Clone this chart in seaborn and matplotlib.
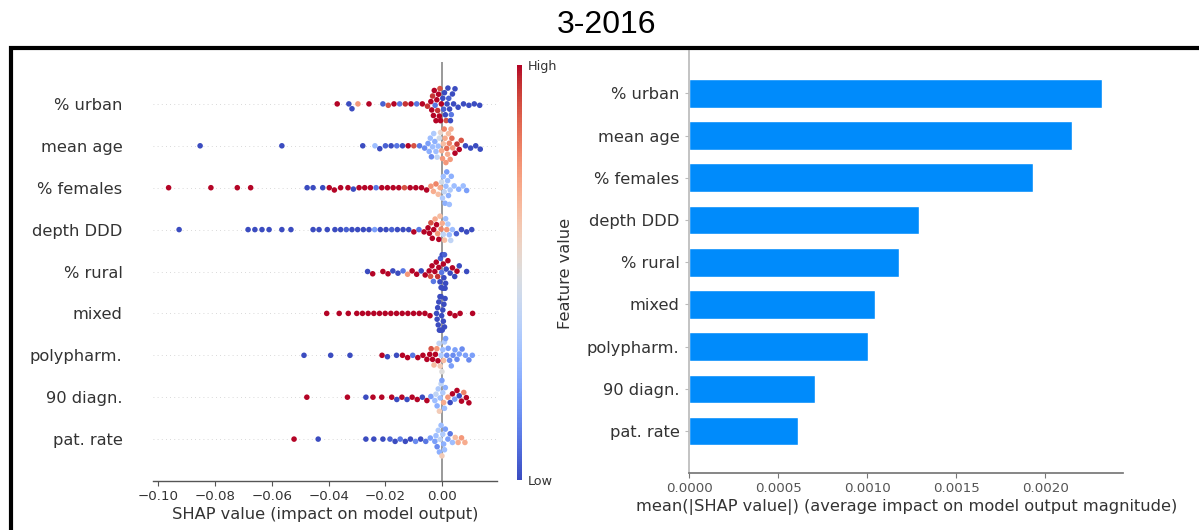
import warnings
import numpy as np
import pandas as pd
import matplotlib
matplotlib.use("Agg")
import matplotlib.pyplot as plt
from matplotlib.patches import Rectangle
from matplotlib.cm import ScalarMappable
from matplotlib.colors import Normalize
import seaborn as sns

warnings.filterwarnings("ignore")

# ---------------------------------------------------------------- data
features = ["% urban", "mean age", "% females", "depth DDD", "% rural",
            "mixed", "polypharm.", "90 diagn.", "pat. rate"]

# mean(|SHAP|) per feature
mean_abs_shap = [0.002317, 0.002150, 0.001931, 0.001292, 0.001176,
                 0.001045, 0.001002, 0.000704, 0.000611]

# per-sample SHAP values and normalised feature values (0 = low, 1 = high)
urban_shap = [-0.0370, -0.0329, -0.0318, -0.0297, -0.0258, -0.0209, -0.0190, -0.0170,
              -0.0150, -0.0130, -0.0110, -0.0090, -0.0070, -0.0052,
              -0.0040, -0.0037, -0.0034, -0.0031, -0.0028, -0.0025, -0.0022, -0.0019,
              -0.0016, -0.0013, -0.0010, -0.0008, -0.0006, -0.0003,
              0.0002, 0.0005, 0.0008, 0.0011, 0.0014, 0.0017, 0.0020, 0.0023, 0.0026,
              0.0029, 0.0032, 0.0036, 0.0040, 0.0045,
              0.0056, 0.0075, 0.0094, 0.0113, 0.0132]
urban_val = [1.0, 0.0, 0.0, 0.75, 1.0, 0.05, 0.9, 1.0,
             0.1, 0.95, 1.0, 0.1, 1.0, 0.95,
             1.0, 1.0, 0.95, 1.0, 1.0, 0.1, 1.0, 1.0,
             0.95, 1.0, 1.0, 0.9, 1.0, 1.0,
             0.0, 0.05, 0.0, 0.0, 0.9, 0.0, 0.0, 0.05, 0.0,
             0.0, 0.1, 0.0, 0.0, 0.0,
             0.0, 0.0, 0.0, 0.0, 0.0]

age_shap = [-0.0853, -0.0565, -0.0280, -0.0237,
            -0.0220, -0.0200, -0.0180, -0.0160, -0.0140, -0.0120, -0.0100, -0.0080,
            -0.0062,
            -0.0050, -0.0046, -0.0042, -0.0038, -0.0034, -0.0030, -0.0026, -0.0022,
            -0.0018, -0.0014, -0.0010, -0.0006,
            -0.0002, 0.0001, 0.0004, 0.0007, 0.0010, 0.0013, 0.0016, 0.0019, 0.0022,
            0.0025, 0.0028, 0.0031, 0.0034, 0.0037,
            0.0045, 0.0052, 0.0060, 0.0067,
            0.0082, 0.0100, 0.0118, 0.0134]
age_val = [0.0, 0.0, 0.0, 0.3,
           0.0, 0.05, 0.0, 0.1, 0.0, 1.0, 0.9, 0.1,
           0.15,
           0.2, 0.25, 0.3, 0.15, 0.3, 0.35, 0.25, 0.3, 0.4, 0.3, 0.45, 0.55,
           0.7, 0.75, 0.65, 0.8, 0.7, 0.75, 0.85, 0.7, 0.65,
           0.8, 0.75, 0.7, 0.85, 0.75,
           1.0, 0.95, 1.0, 0.9,
           0.0, 0.0, 0.0, 0.0]

females_shap = [-0.0964, -0.0815, -0.0722, -0.0675, -0.0476, -0.0455, -0.0421, -0.0398,
                -0.0380, -0.0358, -0.0332, -0.0313,
                -0.0293, -0.0273, -0.0253, -0.0233, -0.0213, -0.0193, -0.0173, -0.0153,
                -0.0133, -0.0113, -0.0093, -0.0073, -0.0055,
                -0.0040, -0.0031, -0.0022, -0.0014, -0.0007,
                -0.0002, 0.0001, 0.0004, 0.0007, 0.0010, 0.0013, 0.0016, 0.0019, 0.0022,
                0.0025, 0.0028, 0.0032,
                0.0042, 0.0058, 0.0074, 0.0086]
females_val = [1.0, 1.0, 1.0, 1.0, 0.0, 0.0, 0.0, 1.0,
               1.0, 1.0, 1.0, 0.0,
               1.0, 1.0, 1.0, 0.1, 1.0, 1.0, 1.0, 1.0,
               0.9, 1.0, 1.0, 1.0, 1.0,
               0.75, 0.7, 0.8, 0.65, 0.7,
               0.45, 0.35, 0.3, 0.4, 0.25, 0.3, 0.2, 0.3, 0.25,
               0.3, 0.35, 0.25,
               0.3, 0.25, 0.3, 0.2]

depth_shap = [-0.0927, -0.0684, -0.0660, -0.0635, -0.0610, -0.0565, -0.0533, -0.0455,
              -0.0434, -0.0405,
              -0.0378, -0.0358, -0.0338, -0.0318, -0.0298, -0.0278, -0.0258, -0.0238,
              -0.0218, -0.0198, -0.0178, -0.0158, -0.0138, -0.0118, -0.0100, -0.0082,
              -0.0064,
              -0.0050, -0.0045, -0.0040, -0.0035, -0.0030, -0.0025, -0.0020, -0.0016,
              -0.0012, -0.0008, -0.0004,
              0.0000, 0.0004, 0.0008, 0.0012, 0.0016, 0.0020, 0.0025, 0.0030, 0.0036,
              0.0050, 0.0068, 0.0086, 0.0104]
depth_val = [0.0, 0.0, 0.0, 0.0, 0.0, 0.0, 0.0, 0.0,
             0.0, 0.0,
             0.0, 0.0, 0.05, 0.0, 0.0, 0.0, 0.0, 0.2,
             0.0, 0.0, 0.05, 0.0, 0.0, 0.0, 1.0, 0.1,
             1.0,
             1.0, 1.0, 0.9, 1.0, 1.0, 0.7, 1.0, 0.75, 1.0, 0.65, 0.8,
             0.7, 0.4, 0.65, 0.3, 0.75, 0.35, 0.3, 0.4, 0.3,
             0.05, 0.0, 0.0, 0.0]

rural_shap = [-0.0263, -0.0245, -0.0209, -0.0191, -0.0174, -0.0156, -0.0138, -0.0122,
              -0.0106, -0.0090, -0.0074, -0.0060,
              -0.0046, -0.0041, -0.0036, -0.0031, -0.0026, -0.0021, -0.0016, -0.0012,
              -0.0008, -0.0006, -0.0004, -0.0002, 0.0000, 0.0002, 0.0004, 0.0006,
              0.0008, 0.0010, 0.0012, 0.0014,
              0.0020, 0.0028, 0.0036, 0.0044, 0.0052, 0.0060, 0.0086]
rural_val = [0.0, 1.0, 1.0, 1.0, 0.0, 0.0, 0.1, 0.75,
             1.0, 1.0, 0.0, 1.0,
             1.0, 0.9, 1.0, 0.1, 1.0, 1.0, 0.95, 1.0,
             0.0, 0.05, 0.0, 0.1, 0.0, 0.0, 1.0, 0.0,
             0.05, 0.0, 0.0, 0.0,
             1.0, 0.0, 1.0, 0.0, 1.0, 0.0, 0.0]

mixed_shap = [-0.0407, -0.0363, -0.0331,
              -0.0301, -0.0281, -0.0261, -0.0241, -0.0221, -0.0201, -0.0181, -0.0161,
              -0.0141, -0.0121, -0.0101, -0.0081, -0.0061, -0.0043,
              -0.0020, -0.0018, -0.0016, -0.0014, -0.0012, -0.0010, -0.0008, -0.0006,
              -0.0004, -0.0002, 0.0000, 0.0002, 0.0004, 0.0006, 0.0008, 0.0010,
              0.0027, 0.0045, 0.0063, 0.0107]
mixed_val = [1.0, 1.0, 1.0,
             1.0, 1.0, 1.0, 1.0, 1.0, 1.0, 1.0, 1.0,
             1.0, 1.0, 1.0, 1.0, 1.0, 1.0,
             0.0, 0.0, 0.0, 0.0, 0.0, 0.0, 0.0, 0.0,
             0.0, 0.0, 0.0, 0.0, 0.0, 0.0, 0.0, 0.0,
             1.0, 1.0, 1.0, 1.0]

poly_shap = [-0.0487, -0.0393, -0.0325, -0.0212, -0.0193, -0.0161, -0.0140, -0.0122,
             -0.0104, -0.0086, -0.0068, -0.0054,
             -0.0044, -0.0039, -0.0034, -0.0029, -0.0024, -0.0019, -0.0015,
             -0.0011, -0.0007, -0.0004, -0.0001, 0.0002, 0.0005, 0.0008,
             0.0012, 0.0016, 0.0021, 0.0026, 0.0032, 0.0038, 0.0045, 0.0052, 0.0060,
             0.0070, 0.0082, 0.0094, 0.0106]
poly_val = [0.0, 0.0, 0.0, 1.0, 0.0, 0.0, 1.0, 1.0,
            0.1, 1.0, 1.0, 1.0,
            1.0, 0.9, 1.0, 0.65, 1.0, 0.75, 1.0,
            0.4, 0.6, 0.35, 0.5, 0.3, 0.65, 0.35,
            0.2, 0.15, 0.2, 0.15, 0.2, 0.15, 0.2, 0.15, 0.2,
            0.15, 0.2, 0.15, 0.2]

diagn_shap = [-0.0477, -0.0334, -0.0269, -0.0244, -0.0213, -0.0178, -0.0160, -0.0142,
              -0.0124, -0.0106, -0.0088, -0.0070, -0.0054, -0.0040,
              -0.0026, -0.0022, -0.0018, -0.0014, -0.0010, -0.0007, -0.0004, -0.0001,
              0.0002, 0.0005, 0.0008, 0.0011,
              0.0020, 0.0028, 0.0036, 0.0044, 0.0052, 0.0060, 0.0068, 0.0076, 0.0085,
              0.0094]
diagn_val = [1.0, 1.0, 0.0, 1.0, 1.0, 1.0, 0.0, 1.0,
             0.0, 1.0, 1.0, 0.0, 1.0, 0.2,
             0.3, 0.4, 0.25, 0.35, 0.6, 0.3, 0.4, 0.2, 0.35, 0.7, 0.3, 0.25,
             0.75, 0.0, 1.0, 0.2, 1.0, 0.0, 1.0, 0.8, 1.0,
             1.0]

pat_shap = [-0.0522, -0.0437, -0.0269, -0.0241, -0.0209, -0.0184, -0.0166, -0.0148,
            -0.0130, -0.0112, -0.0094, -0.0076, -0.0058, -0.0042,
            -0.0026, -0.0022, -0.0018, -0.0014, -0.0010, -0.0007, -0.0004, -0.0001,
            0.0002, 0.0005, 0.0008, 0.0011,
            0.0020, 0.0028, 0.0036, 0.0046, 0.0056, 0.0068, 0.0080]
pat_val = [1.0, 0.0, 0.0, 0.0, 0.0, 0.05, 0.0, 0.1,
           0.0, 0.0, 0.15, 0.0, 0.1, 0.2,
           0.2, 0.3, 0.15, 0.35, 0.25, 0.4, 0.3, 0.6, 0.35, 0.25, 0.3, 0.2,
           0.2, 0.1, 0.3, 0.65, 0.7, 0.75, 0.7]

shap_lists = [urban_shap, age_shap, females_shap, depth_shap, rural_shap,
              mixed_shap, poly_shap, diagn_shap, pat_shap]
value_lists = [urban_val, age_val, females_val, depth_val, rural_val,
               mixed_val, poly_val, diagn_val, pat_val]

xticks_left = [-0.10, -0.08, -0.06, -0.04, -0.02, 0.00]
xticks_right = [0.0000, 0.0005, 0.0010, 0.0015, 0.0020]

# ---------------------------------------------------------------- style
sns.set_theme(style="white")
plt.rcParams["font.family"] = ["DejaVu Sans"]
TXT = "#333333"
W, H = 1199, 530


def box(left, top, right, bottom):
    """Axes rectangle from pixel edges."""
    return [left / W, 1 - bottom / H, (right - left) / W, (bottom - top) / H]


rows = []
for feat, sv, fv in zip(features, shap_lists, value_lists):
    for s, v in zip(sv, fv):
        rows.append((feat, s, v))
swarm_df = pd.DataFrame(rows, columns=["feature", "shap", "value"])
bar_df = pd.DataFrame({"feature": features, "importance": mean_abs_shap})

fig = plt.figure(figsize=(W / 100, H / 100), dpi=100)

# ---------------------------------------------------------------- beeswarm
ax1 = fig.add_axes(box(153, 62, 497, 481))
for i in range(len(features)):
    ax1.axhline(i, color="#cccccc", lw=0.6, dashes=(1, 4), zorder=-2)
ax1.axvline(0, color="#999999", lw=1.4, zorder=-1)
sns.swarmplot(data=swarm_df, x="shap", y="feature", hue="value", order=features,
              palette="coolwarm", hue_norm=(0, 1), size=4.0, linewidth=0,
              orient="h", legend=False, ax=ax1)
ax1.set_xlim(-0.1019, 0.0193)
ax1.set_ylim(len(features), -1)
ax1.set_xticks(xticks_left)
ax1.set_xticklabels([f"{t:.2f}".replace("-", "\u2212") for t in xticks_left])
for sp in ("top", "right", "left"):
    ax1.spines[sp].set_visible(False)
ax1.spines["bottom"].set_color("#555555")
ax1.spines["bottom"].set_linewidth(1.0)
ax1.tick_params(axis="y", length=0, pad=22, labelsize=11.7, labelcolor=TXT)
ax1.tick_params(axis="x", length=3.5, width=0.8, color="#555555", pad=3,
                labelsize=9.6, labelcolor=TXT, bottom=True)
ax1.set_ylabel("")
ax1.set_xlabel("SHAP value (impact on model output)", fontsize=11.7, color=TXT,
               labelpad=3)

# colour bar
cax = fig.add_axes(box(517, 65, 522, 480))
sm = ScalarMappable(norm=Normalize(0, 1), cmap="coolwarm")
cb = fig.colorbar(sm, cax=cax, ticks=[0, 1])
cb.set_ticklabels(["Low", "High"])
cb.outline.set_visible(False)
cax.tick_params(length=0, labelsize=9.2, labelcolor=TXT, pad=4)
fig.text(566 / W, 1 - 273 / H, "Feature value", rotation=90, ha="center",
         va="center", fontsize=11.7, color=TXT)

# ---------------------------------------------------------------- bar chart
ax2 = fig.add_axes(box(689.3, 51.1, 1123.3, 473.3))
sns.barplot(data=bar_df, x="importance", y="feature", order=features,
            color="#008bfb", saturation=1, width=0.68, orient="h", ax=ax2)
ax2.set_xlim(0, 0.002438)
ax2.set_ylim(len(features), -1)
ax2.set_xticks(xticks_right)
ax2.set_xticklabels([f"{t:.4f}" for t in xticks_right])
for sp in ("top", "right"):
    ax2.spines[sp].set_visible(False)
ax2.spines["left"].set_color("#bbbbbb")
ax2.spines["bottom"].set_color("#777777")
ax2.tick_params(axis="y", length=3, width=0.8, color="#bbbbbb", pad=4,
                labelsize=11.7, labelcolor=TXT, left=True)
ax2.tick_params(axis="x", length=3.5, width=0.8, color="#777777", pad=3,
                labelsize=9.6, labelcolor="#555555", bottom=True)
ax2.set_ylabel("")
ax2.set_xlabel("mean(|SHAP value|) (average impact on model output magnitude)",
               fontsize=11.7, color=TXT, labelpad=3)

# ---------------------------------------------------------------- frame & title
fig.add_artist(Rectangle((10.7 / W, -0.1), 1.2, 1 - 48 / H + 0.1,
                         transform=fig.transFigure, fill=False,
                         lw=3.0, ec="black"))
fig.text(606.5 / W, 1 - 25 / H, "3-2016", ha="center", va="center",
         fontsize=23, family="Liberation Sans", color="black")

fig.savefig("out.png", dpi=100, facecolor="white")
